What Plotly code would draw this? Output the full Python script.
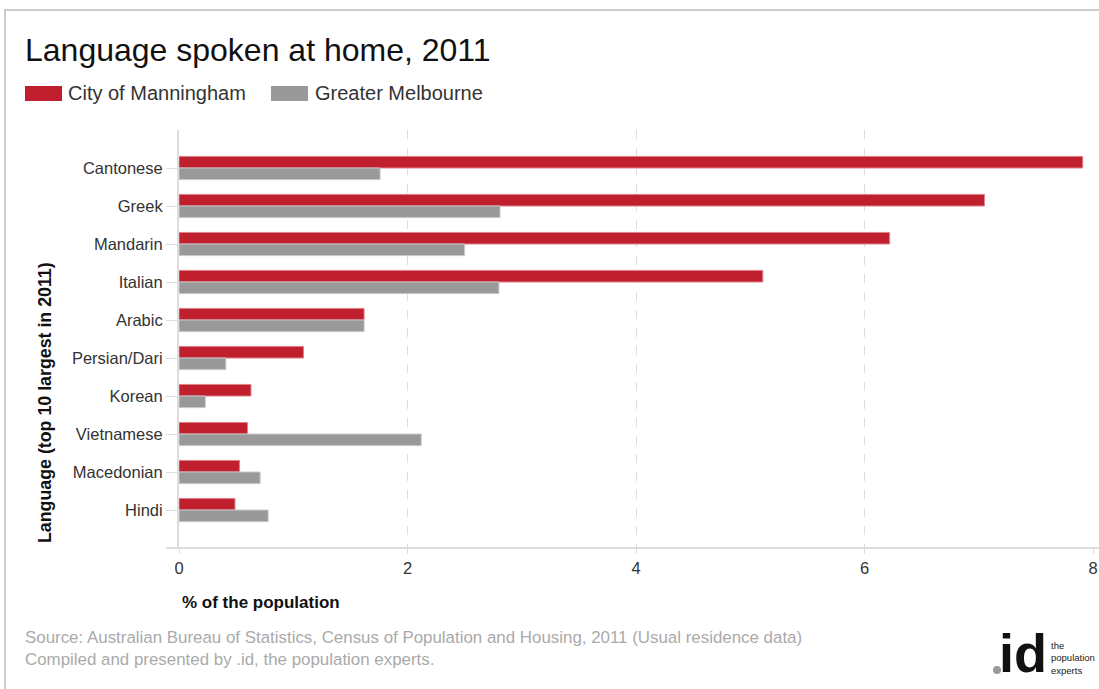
import plotly.graph_objects as go

languages = ["Cantonese", "Greek", "Mandarin", "Italian", "Arabic", "Persian/Dari",
             "Korean", "Vietnamese", "Macedonian", "Hindi"]
manningham = [7.91, 7.05, 6.22, 5.11, 1.62, 1.09, 0.63, 0.60, 0.53, 0.49]
melbourne = [1.76, 2.81, 2.50, 2.80, 1.62, 0.41, 0.23, 2.12, 0.71, 0.78]
x_ticks = [0, 2, 4, 6, 8]
series_names = ["City of Manningham", "Greater Melbourne"]

W, H = 1099, 689
L, R, T, B = 179, 1093, 130, 548
RED = "#C0202D"
GRAY = "#999999"
FONT = "Liberation Sans, Arial, sans-serif"


def px(x):
    return (x - L) / (R - L)


def py(y):
    return (B - y) / (B - T)


fig = go.Figure()
fig.add_trace(go.Bar(y=languages, x=manningham, orientation="h", name=series_names[0],
                     marker=dict(color=RED, line=dict(color="#E0808A", width=1))))
fig.add_trace(go.Bar(y=languages, x=melbourne, orientation="h", name=series_names[1],
                     marker=dict(color=GRAY, line=dict(color="#C8C8C8", width=1))))

shapes = [
    dict(type="rect", xref="paper", yref="paper", x0=px(5), x1=px(1110), y0=py(700), y1=py(10),
         line=dict(color="#CCCCCC", width=2), fillcolor="rgba(0,0,0,0)", layer="below"),
    dict(type="line", xref="paper", yref="paper", x0=px(166), x1=px(1099), y0=0, y1=0,
         line=dict(color="#DDDDDD", width=2)),
    dict(type="rect", xref="paper", yref="paper", x0=px(25), x1=px(62), y0=py(101), y1=py(86),
         line=dict(width=0), fillcolor=RED),
    dict(type="rect", xref="paper", yref="paper", x0=px(271), x1=px(308), y0=py(101), y1=py(86),
         line=dict(width=0), fillcolor=GRAY),
    # logo dot
    dict(type="circle", xref="paper", yref="paper", x0=px(993), x1=px(1001), y0=py(674), y1=py(666),
         line=dict(width=0), fillcolor="#999999"),
]

annotations = [
    dict(text="Language spoken at home, 2011", xref="paper", yref="paper", x=px(23), y=py(50),
         xanchor="left", yanchor="middle", showarrow=False,
         font=dict(family=FONT, size=32, color="#111111")),
    dict(text=series_names[0], xref="paper", yref="paper", x=px(66), y=py(93),
         xanchor="left", yanchor="middle", showarrow=False,
         font=dict(family=FONT, size=20, color="#333333")),
    dict(text=series_names[1], xref="paper", yref="paper", x=px(313), y=py(93),
         xanchor="left", yanchor="middle", showarrow=False,
         font=dict(family=FONT, size=20, color="#333333")),
    dict(text="<b>Language (top 10 largest in 2011)</b>", xref="paper", yref="paper",
         x=px(45), y=py(403), xanchor="center", yanchor="middle", textangle=-90, showarrow=False,
         font=dict(family=FONT, size=17.8, color="#111111")),
    dict(text="<b>% of the population</b>", xref="paper", yref="paper", x=px(180), y=py(602),
         xanchor="left", yanchor="middle", showarrow=False,
         font=dict(family=FONT, size=17, color="#111111")),
    dict(text="Source: Australian Bureau of Statistics, Census of Population and Housing, 2011 (Usual residence data)<br>"
              "Compiled and presented by .id, the population experts.",
         xref="paper", yref="paper", x=px(23), y=py(648), xanchor="left", yanchor="middle",
         align="left", showarrow=False, font=dict(family=FONT, size=16.9, color="#AAAAAA")),
    dict(text="<b>id</b>", xref="paper", yref="paper",
         x=px(1049), y=py(685), xanchor="right", yanchor="bottom", showarrow=False,
         font=dict(family=FONT, size=54, color="#111111")),
    dict(text="the<br>population<br>experts", xref="paper", yref="paper",
         x=px(1049), y=py(658), xanchor="left", yanchor="middle", align="left", showarrow=False,
         font=dict(family=FONT, size=9.5, color="#222222")),
]

fig.update_layout(
    width=W, height=H,
    margin=dict(l=L, r=W - R, t=T, b=H - B, autoexpand=False),
    paper_bgcolor="white", plot_bgcolor="white",
    barmode="group", bargap=0.39, bargroupgap=0.0,
    showlegend=False,
    shapes=shapes, annotations=annotations,
    font=dict(family=FONT, color="#333333"),
)
fig.update_xaxes(range=[0, 8], tickvals=x_ticks, ticktext=[str(v) for v in x_ticks],
                 automargin=False,
                 showgrid=True, gridcolor="#DDDDDD", griddash="dash", gridwidth=1,
                 zeroline=False, showline=False, ticks="outside", ticklen=5, tickcolor="#DDDDDD",
                 tickwidth=1, tickfont=dict(family=FONT, size=16.5, color="#333333"))
fig.update_yaxes(categoryorder="array", categoryarray=languages, range=[9.999, -1],
                 automargin=False,
                 showgrid=False, zeroline=False, showline=True, linecolor="#DDDDDD", linewidth=2,
                 ticks="outside", ticklen=11, tickcolor="#DDDDDD", tickwidth=1,
                 tickfont=dict(family=FONT, size=16.5, color="#333333"))

fig.write_html("out.html", config={"displayModeBar": False},
               post_script="document.body.style.margin='0px';")
